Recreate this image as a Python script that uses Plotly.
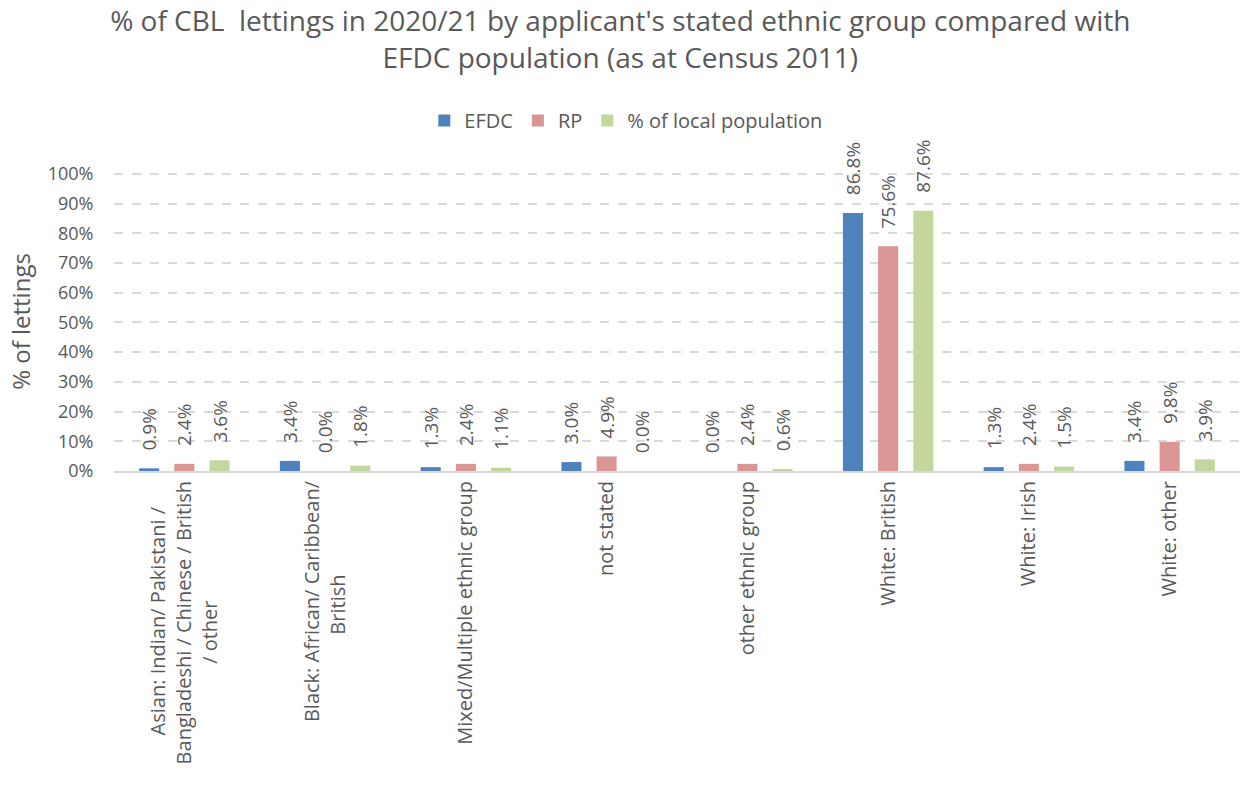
import plotly.graph_objects as go

category_lines = [
    ["Asian: Indian/ Pakistani /", "Bangladeshi / Chinese / British", "/ other"],
    ["Black: African/ Caribbean/", "British"],
    ["Mixed/Multiple ethnic group"],
    ["not stated"],
    ["other ethnic group"],
    ["White: British"],
    ["White: Irish"],
    ["White: other"],
]
efdc = [0.9, 3.4, 1.3, 3.0, 0.0, 86.8, 1.3, 3.4]
rp = [2.4, 0.0, 2.4, 4.9, 2.4, 75.6, 2.4, 9.8]
local_pop = [3.6, 1.8, 1.1, 0.0, 0.6, 87.6, 1.5, 3.9]

categories = [" ".join(lines) for lines in category_lines]


def centred_label(lines):
    # rotated multi-line tick labels are end-aligned; pad shorter lines so they look centred
    longest = max(len(s) for s in lines)
    out = []
    for s in lines:
        pad = int(round((longest - len(s)) * 0.95))
        out.append(s + "\u00a0" * pad)
    return "<br>".join(out)


ticktext = [centred_label(lines) for lines in category_lines]

series = [
    ("EFDC", efdc, "#4F81BD"),
    ("RP", rp, "#D99694"),
    ("% of local population", local_pop, "#C3D69B"),
]

font_family = "Open Sans, Segoe UI, Calibri, sans-serif"
grey = "#595959"

fig = go.Figure()
for name, vals, color in series:
    fig.add_trace(go.Bar(
        name=name, x=categories, y=vals,
        marker=dict(color=color, line=dict(width=0)),
        texttemplate="\u00a0\u00a0\u00a0%{y:.1f}%", textposition="outside",
        textangle=-90, constraintext="none", cliponaxis=False,
        textfont=dict(size=19, color=grey, family=font_family),
    ))

fig.update_layout(
    width=1248, height=787,
    paper_bgcolor="white", plot_bgcolor="white",
    font=dict(family=font_family, color=grey),
    title=dict(
        text="% of CBL  lettings in 2020/21 by applicant's stated ethnic group compared with<br>EFDC population (as at Census 2011)",
        x=0.497, xanchor="center", y=0.96, yanchor="top",
        font=dict(size=28, color=grey, family=font_family),
    ),
    barmode="group", bargap=0.25, bargroupgap=0.43,
    margin=dict(l=114, r=8, t=172, b=316),
    legend=dict(orientation="h", x=0.455, xanchor="center", y=1.172, yanchor="middle",
                font=dict(size=20, color=grey), traceorder="normal"),
    showlegend=True,
)
fig.update_xaxes(
    tickmode="array", tickvals=categories, ticktext=ticktext,
    tickangle=-90, tickfont=dict(size=20, color=grey),
    showline=True, linecolor="#D9D9D9", linewidth=2, ticks="",
    automargin=False,
)
fig.update_yaxes(
    range=[0, 100.6], tick0=0, dtick=10, ticksuffix="%",
    tickfont=dict(size=18, color=grey),
    ticks="outside", ticklen=16, tickcolor="rgba(0,0,0,0)",
    showgrid=True, gridcolor="#D9D9D9", griddash="dash", gridwidth=1.5,
    zeroline=False, automargin=False,
    title=dict(text="% of lettings", font=dict(size=24, color=grey), standoff=10),
)

fig.write_html("out.html", config={"displayModeBar": False},
               post_script="document.body.style.margin='0';")
